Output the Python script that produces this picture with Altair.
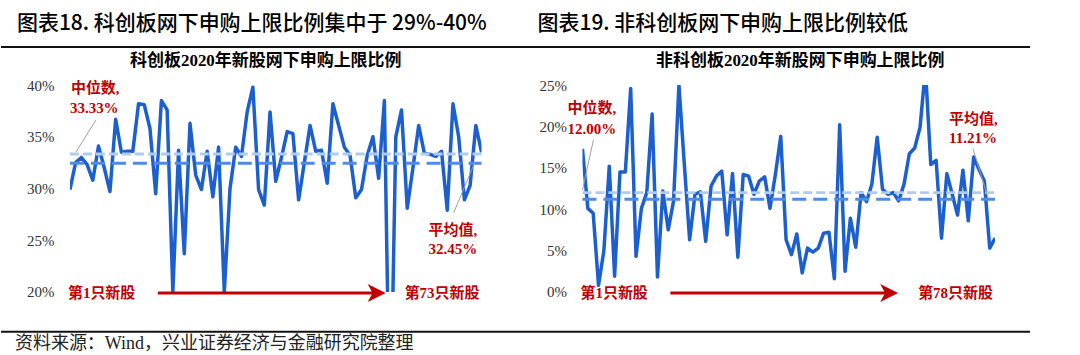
import altair as alt
import pandas as pd

# ---------------- data ----------------
kc_values = [29.9, 32.5, 33.0, 32.3, 30.8, 34.1, 32.0, 29.7, 36.7, 33.5,
             33.6, 33.6, 38.2, 38.1, 35.8, 29.5, 38.5, 37.6, 20.0, 33.7,
             23.7, 36.3, 31.3, 29.9, 33.6, 29.2, 34.0, 20.0, 30.0, 34.0,
             33.1, 37.4, 39.8, 29.9, 28.4, 37.4, 30.7, 33.0, 35.5, 35.3,
             28.9, 32.5, 36.1, 33.6, 33.7, 30.5, 38.2, 36.1, 34.0, 33.2,
             29.1, 29.9, 33.2, 35.0, 31.0, 38.5, 5.0, 35.0, 37.6, 28.1,
             32.0, 36.1, 33.4, 33.3, 33.1, 33.6, 27.9, 38.2, 35.0, 28.9,
             30.3, 36.1, 33.5]
other_values = [17.3, 10.1, 9.5, 0.8, 5.0, 15.2, 1.9, 14.5, 14.5, 24.6,
                4.3, 10.1, 12.0, 21.5, 1.8, 12.2, 7.5, 11.0, 25.0, 15.5,
                6.3, 11.8, 12.1, 6.1, 12.8, 14.0, 14.6, 6.9, 14.3, 4.2,
                14.2, 14.0, 11.8, 13.4, 13.9, 10.1, 14.2, 18.8, 6.3, 4.5,
                7.0, 2.3, 5.3, 4.8, 5.3, 7.1, 7.2, 1.6, 20.2, 2.5,
                8.9, 5.4, 12.0, 10.9, 13.0, 18.7, 12.4, 11.8, 12.0, 11.0,
                13.0, 16.7, 17.4, 19.9, 27.0, 15.4, 15.9, 6.5, 14.3, 11.8,
                9.3, 14.7, 8.6, 16.3, 14.8, 13.4, 5.3, 6.5]
kc_median, kc_mean = 33.33, 32.45
other_median, other_mean = 12.00, 11.21
kc_ticks = [20, 25, 30, 35, 40]
other_ticks = [0, 5, 10, 15, 20, 25]

title_left = "图表18. 科创板网下申购上限比例集中于 29%-40%"
title_right = "图表19. 非科创板网下申购上限比例较低"
sub_left = "科创板2020年新股网下申购上限比例"
sub_right = "非科创板2020年新股网下申购上限比例"
footer = "资料来源：Wind，兴业证券经济与金融研究院整理"
median_lbl = "中位数,"
mean_lbl = "平均值,"
first_lbl = "第1只新股"
last_left = "第73只新股"
last_right = "第78只新股"

# ---------------- style ----------------
BLUE = "#1C5FCF"
MED = "#AECBF2"
MEAN = "#4F8AE3"
RED = "#C00000"
SERIF = "Liberation Serif, Noto Sans CJK SC"
SANS = "Noto Sans CJK SC"
W1, W2, H = 412, 413, 207


def txt(s, x, y, size, color, weight="normal", font=SERIF, align="left"):
    return alt.Chart(pd.DataFrame({"t": [s]})).mark_text(
        align=align, baseline="middle", fontSize=size, font=font,
        fontWeight=weight, color=color
    ).encode(x=alt.value(x), y=alt.value(y), text="t:N")


def seg(x1, y1, x2, y2, color, width):
    return alt.Chart(pd.DataFrame({"a": [0]})).mark_rule(
        color=color, strokeWidth=width
    ).encode(x=alt.value(x1), x2=alt.value(x2), y=alt.value(y1), y2=alt.value(y2))


def arrow_head(x, y):
    return alt.Chart(pd.DataFrame({"a": [0]})).mark_point(
        shape="M-1,-1L1,0L-1,1L-0.45,0Z", filled=True, color=RED,
        size=324, opacity=1, strokeWidth=0
    ).encode(x=alt.value(x), y=alt.value(y))


def panel(values, med, mean, ticks, domain, width):
    df = pd.DataFrame({"i": list(range(1, len(values) + 1)), "v": values})
    xs = alt.X("i:Q", scale=alt.Scale(domain=[1, len(values)], nice=False, zero=False), axis=None)
    ys = alt.Y("v:Q", scale=alt.Scale(domain=domain, nice=False, zero=False),
               axis=alt.Axis(values=ticks, labelExpr="datum.value + '%'", domain=False,
                             ticks=False, grid=False, labelFont="Liberation Serif",
                             labelFontSize=15, labelColor="#333333", labelPadding=16,
                             title=None, zindex=1))
    line = alt.Chart(df).mark_line(color=BLUE, strokeWidth=3.5, clip=True,
                                   strokeJoin="round").encode(x=xs, y=ys)
    med_rule = alt.Chart(pd.DataFrame({"v": [med]})).mark_rule(
        color=MED, strokeWidth=3, strokeDash=[9, 4]
    ).encode(y=alt.Y("v:Q"), x=alt.value(0), x2=alt.value(width))
    mean_rule = alt.Chart(pd.DataFrame({"v": [mean]})).mark_rule(
        color=MEAN, strokeWidth=3, strokeDash=[14, 7]
    ).encode(y=alt.Y("v:Q"), x=alt.value(0), x2=alt.value(width))
    return line, med_rule, mean_rule


# ---------------- left panel (origin at canvas 69,85) ----------------
bg = alt.Chart(pd.DataFrame({"a": [0]})).mark_rect(color="white").encode(
    x=alt.value(-69), x2=alt.value(1011), y=alt.value(-85), y2=alt.value(270))

l_line, l_med, l_mean = panel(kc_values, kc_median, kc_mean, kc_ticks, [20, 40], W1)
left = alt.layer(
    bg,
    seg(-69, -38, 961, -38, "#111111", 2),
    seg(-69, 247, 961, 247, "#111111", 2),
    txt(title_left, -53, -61, 21, "#000000", weight=500, font=SANS),
    txt(sub_left, 196, -24, 17, "#000000", weight="bold", align="center"),
    txt(footer, -55, 259, 18, "#222222"),
    l_line, l_med, l_mean,
    txt(median_lbl, 1, 3, 15, RED, weight="bold"),
    txt("%.2f%%" % kc_median, 0, 23, 15, RED, weight="bold"),
    seg(26, 35, 6, 67, "#A0A0A0", 1),
    txt(mean_lbl, 359, 145, 15, RED, weight="bold"),
    txt("%.2f%%" % kc_mean, 359, 164, 15, RED, weight="bold"),
    seg(405, 78, 384, 128, "#A0A0A0", 1),
    txt(first_lbl, -2, 208, 15, RED, weight="bold"),
    txt(last_left, 335, 208, 15, RED, weight="bold"),
    seg(88, 208, 304, 208, RED, 3),
    arrow_head(307, 208),
).properties(width=W1, height=H)

# ---------------- right panel (origin at canvas 582,85) ----------------
r_line, r_med, r_mean = panel(other_values, other_median, other_mean, other_ticks, [0, 25], W2)
right = alt.layer(
    txt(title_right, -45, -61, 21, "#000000", weight=500, font=SANS),
    txt(sub_right, 218, -24, 17, "#000000", weight="bold", align="center"),
    r_line, r_med, r_mean,
    txt(median_lbl, -15, 23, 15, RED, weight="bold"),
    txt("%.2f%%" % other_median, -15, 44, 15, RED, weight="bold"),
    seg(11, 55, 0, 105, "#A0A0A0", 1),
    txt(mean_lbl, 367, 34, 15, RED, weight="bold"),
    txt("%.2f%%" % other_mean, 367, 53, 15, RED, weight="bold"),
    seg(391, 64, 406, 113, "#A0A0A0", 1),
    txt(first_lbl, -2, 208, 15, RED, weight="bold"),
    txt(last_right, 336, 208, 15, RED, weight="bold"),
    seg(88, 208, 304, 208, RED, 3),
    arrow_head(307, 208),
).properties(width=W2, height=H)

chart = alt.hconcat(left, right, spacing=101, bounds="flush").properties(
    padding=0, background="white"
).configure_view(stroke=None)

chart.save("out.html", embed_options={"renderer": "svg", "actions": False})
